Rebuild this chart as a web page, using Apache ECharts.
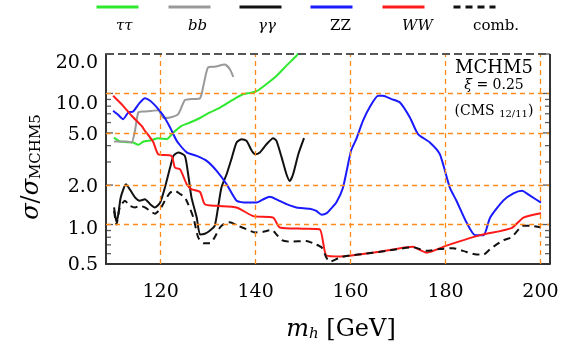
<!DOCTYPE html>
<html>
<head>
<meta charset="utf-8">
<script src="https://cdn.jsdelivr.net/npm/echarts@6/dist/echarts.min.js"></script>
<style>
html, body { margin: 0; padding: 0; background: #fff; }
#chart { width: 576px; height: 355px; }
</style>
</head>
<body>
<div id="chart"></div>
<script>
// 数据：[m_h, sigma/sigma_MCHM5]
const tautau = [[110.2,4.6],[111.4,4.3],[112.8,4.25],[114.2,4.23],[115.3,4.06],[116.4,4.3],[118,4.4],[119.5,4.56],[121.3,4.48],[122.7,5.04],[124.4,5.66],[126.2,6.0],[128.3,6.5],[130.4,7.16],[132.5,7.8],[134.2,8.5],[136,9.3],[137.5,9.9],[138.8,10.1],[140.2,10.4],[142.3,11.8],[144.4,13.6],[146.5,16.3],[148.6,19.4],[150,22.5]];
const bb = [[110.2,4.3],[112.8,4.3],[113.9,4.23],[114.6,5.2],[115.3,7.16],[116.4,7.29],[118,7.35],[119.5,7.46],[120.6,6.5],[122,6.56],[123.7,6.95],[125.1,8.9],[126.5,9.06],[128.3,9.2],[129,11.4],[130,15.8],[131.4,16],[133.5,16.6],[134.6,15.3],[135.3,13.4]];
const gamgam = [[110.2,1.35],[110.7,1.04],[111.1,1.2],[111.6,1.61],[112.7,2.03],[113.5,1.86],[114.6,1.61],[115.6,1.52],[116.7,1.56],[117.8,1.43],[118.8,1.35],[119.9,1.47],[120.9,1.91],[122,2.72],[122.7,3.34],[123.7,3.55],[125.1,3.34],[125.8,2.42],[126.5,1.61],[127.6,1.13],[128.3,0.84],[129.3,0.85],[130.4,0.9],[131.4,0.98],[132.1,1.35],[132.8,1.91],[133.9,2.42],[135,3.24],[136,4.23],[137.1,4.48],[138.1,4.35],[139.2,3.65],[139.9,3.44],[140.9,3.55],[142.3,4.1],[143.7,4.56],[144.4,4.35],[145.5,3.24],[146.5,2.42],[147.2,2.15],[147.9,2.42],[149,3.44],[150.2,4.56]];
const zz = [[110,7.38],[111,6.9],[112.1,6.37],[113.2,7.16],[114.2,7.29],[115.5,8.4],[116.7,9.21],[117.8,8.79],[119.2,7.82],[120.6,6.76],[122,5.5],[123.4,4.35],[125.5,3.55],[127.6,3.34],[129.7,3.06],[131.8,2.57],[133.9,2.03],[136,1.52],[138,1.47],[140.2,1.47],[141.5,1.55],[143,1.63],[144.5,1.55],[146.5,1.43],[148.6,1.35],[151.4,1.32],[152.8,1.27],[153.9,1.19],[155,1.22],[155.8,1.31],[157,1.47],[158.4,1.91],[160.1,3.65],[161.2,4.48],[162.6,6.18],[164,7.82],[165.8,9.6],[166.8,9.6],[168.6,9.06],[170.4,8.54],[172.5,6.56],[174.2,4.9],[176.7,4.23],[178.8,3.44],[180.9,1.91],[182.3,1.52],[184.4,1.04],[186.2,0.83],[188,0.83],[189.4,1.13],[192.2,1.53],[194.3,1.73],[196.1,1.81],[197.8,1.66],[200.1,1.47]];
const ww = [[110,9.6],[112.1,8.05],[113.9,6.76],[116,5.66],[116.7,5.19],[117.8,4.61],[118.5,4.23],[119.5,3.44],[122.3,3.34],[123,2.72],[124.1,2.64],[125.5,2.03],[126.5,1.86],[128.3,1.77],[129.3,1.43],[131.8,1.39],[136,1.35],[139.5,1.16],[143.7,1.13],[145.1,0.95],[150,0.93],[153.5,0.92],[154.9,0.58],[157.8,0.57],[159.8,0.577],[166.1,0.62],[173.2,0.676],[174.2,0.65],[176,0.61],[180.2,0.69],[187.3,0.83],[193.9,0.94],[196.4,1.13],[200.1,1.22]];
const comb = [[110.2,1.27],[110.7,1.0],[111.4,1.35],[112.5,1.52],[113.5,1.39],[114.6,1.35],[115.6,1.39],[116.7,1.35],[117.8,1.27],[118.8,1.21],[119.9,1.31],[120.9,1.52],[122,1.75],[123,1.81],[124.1,1.71],[125.1,1.61],[125.8,1.43],[126.9,1.13],[127.9,0.8],[129,0.72],[130.4,0.72],[131.4,0.8],[132.5,0.95],[133.5,1.02],[134.6,1.04],[136,0.99],[138.1,0.92],[139.9,0.87],[141.6,0.88],[143.4,0.91],[144.4,0.84],[145.5,0.76],[147.2,0.74],[150.7,0.75],[152.5,0.71],[153.9,0.67],[154.9,0.56],[155.6,0.52],[157.7,0.56],[159.8,0.58],[163.3,0.6],[167.5,0.63],[173.2,0.67],[176,0.63],[178.8,0.65],[181.6,0.66],[183.7,0.63],[186.5,0.59],[188,0.59],[189.4,0.65],[192.2,0.76],[193.9,0.8],[196.4,0.98],[197.8,0.98],[200.1,0.95]];

// 刻度
const xTicks = [120, 140, 160, 180, 200];
const yTicks = [0.5, 1, 2, 5, 10, 20];
const yGrid = [1, 2, 5, 10];
const yMinor = [0.6, 0.7, 0.8, 0.9, 3, 4, 6, 7, 8, 9];
const X_MIN = 108.5, X_MAX = 202;

const FONT = 'DejaVu Serif';
const ORANGE = '#ff8c1a';
const FRAME = '#333';

const chart = echarts.init(document.getElementById('chart'));

function curve(name, data, color, dashed) {
    return {
        name: name,
        type: 'line',
        data: data,
        symbol: 'none',
        smooth: 0.2,
        z: 3,
        lineStyle: { color: color, width: 2, type: dashed ? [7, 5] : 'solid' },
        itemStyle: { color: color }
    };
}

// 轴内侧的小刻度
function tickMarks(name, xPos, values, len, dir) {
    return {
        name: name,
        type: 'scatter',
        data: values.map(v => [xPos, v]),
        symbol: 'rect',
        symbolSize: [len, 1.3],
        symbolOffset: [dir * len / 2, 0],
        itemStyle: { color: FRAME },
        silent: true,
        z: 2
    };
}

const legendNames = ['ττ', 'bb', 'γγ', 'ZZ', 'WW', 'comb.'];
const legendLeft = [95, 167, 238, 309, 381, 452];
const legendTextX = [116, 188, 258, 330, 402, 473];
const legendItalic = [true, true, true, false, true, false];

// y 轴标签位置微调
const labelNudge = { 20: 9, 10: 11, 5: 2, 2: 2, 1: 5, 0.5: 1 };

const option = {
    animation: false,
    backgroundColor: '#fff',
    grid: { left: 106, right: 26, top: 54, bottom: 91, show: false },
    legend: legendNames.map((n, i) => ({
        data: [n],
        left: legendLeft[i],
        top: 0,
        padding: 0,
        itemWidth: 42,
        itemHeight: 14,
        selectedMode: false,
        formatter: () => '',
        itemStyle: { opacity: 0 },
        lineStyle: { width: 3 }
    })),
    xAxis: {
        type: 'value',
        min: X_MIN,
        max: X_MAX,
        axisLine: { show: true, lineStyle: { color: FRAME, width: 2 } },
        axisTick: { show: false },
        splitLine: { show: false },
        axisLabel: { customValues: xTicks, margin: 19, color: '#000', fontFamily: FONT, fontSize: 19 },
        name: '{i|m}{s|h}{n| [GeV]}',
        nameLocation: 'middle',
        nameGap: 54,
        nameTextStyle: {
            fontFamily: FONT,
            padding: [0, 0, 0, 26],
            rich: {
                i: { fontFamily: FONT, fontStyle: 'italic', fontSize: 24, color: '#000' },
                s: { fontFamily: FONT, fontStyle: 'italic', fontSize: 15, color: '#000', verticalAlign: 'bottom', padding: [8, 0, 0, 0] },
                n: { fontFamily: FONT, fontSize: 24, color: '#000' }
            }
        }
    },
    yAxis: {
        type: 'log',
        min: 0.5,
        max: 20,
        axisLine: { show: true, lineStyle: { color: FRAME, width: 2 } },
        axisTick: { show: false },
        splitLine: { show: false },
        axisLabel: { show: false },
        name: '{i|σ}{n|/}{i|σ}{s|MCHM5}',
        nameLocation: 'middle',
        nameRotate: 90,
        nameGap: 62,
        nameTextStyle: {
            padding: [0, 16, 0, 0],
            rich: {
                i: { fontFamily: FONT, fontStyle: 'italic', fontSize: 24, color: '#000' },
                n: { fontFamily: FONT, fontSize: 24, color: '#000' },
                s: { fontFamily: FONT, fontSize: 15, color: '#000', verticalAlign: 'bottom', padding: [10, 0, 0, 0] }
            }
        }
    },
    graphic: legendNames.map((n, i) => ({
        type: 'text',
        left: legendTextX[i],
        top: 19,
        style: {
            text: n,
            fill: '#000',
            font: (legendItalic[i] ? 'italic ' : '') + '15px "' + FONT + '"',
            textAlign: 'center'
        }
    })).concat([
        { type: 'text', x: 494, y: 59, style: { text: 'MCHM5', fill: '#000', font: '18px "' + FONT + '"', textAlign: 'center' } },
        { type: 'text', x: 494, y: 78, style: { text: '{i|ξ} = 0.25', fill: '#000', font: '14px "' + FONT + '"', textAlign: 'center',
            rich: { i: { fontFamily: FONT, fontStyle: 'italic', fontSize: 14 } } } },
        { type: 'text', x: 494, y: 103, style: { text: '(CMS {s|12/11})', fill: '#000', font: '14px "' + FONT + '"', textAlign: 'center',
            rich: { s: { fontFamily: FONT, fontSize: 10, verticalAlign: 'bottom', padding: [6, 0, 0, 0] } } } }
    ]),
    series: [
        {
            // 橙色虚线网格
            name: 'grid',
            type: 'line',
            data: [],
            z: 1,
            silent: true,
            markLine: {
                silent: true,
                symbol: ['none', 'none'],
                label: { show: false },
                lineStyle: { color: ORANGE, type: [5, 4], width: 1.3 },
                data: xTicks.map(v => ({ xAxis: v })).concat(yGrid.map(v => ({ yAxis: v })))
            }
        },
        {
            // 右边框与上边框
            name: 'frame',
            type: 'line',
            data: [],
            z: 4,
            silent: true,
            markLine: {
                silent: true,
                symbol: ['none', 'none'],
                label: { show: false },
                data: [
                    { xAxis: X_MAX, lineStyle: { color: FRAME, width: 2, type: 'solid' } },
                    { yAxis: 20, lineStyle: { color: '#555', width: 2.2, type: [8, 4] } }
                ]
            }
        },
        {
            // y 轴刻度标签
            name: 'ylabels',
            type: 'line',
            data: [],
            z: 1,
            silent: true,
            markLine: {
                silent: true,
                symbol: ['none', 'none'],
                lineStyle: { color: 'rgba(0,0,0,0)', width: 0 },
                label: {
                    show: true,
                    position: 'start',
                    distance: 8,
                    color: '#000',
                    opacity: 1,
                    fontFamily: FONT,
                    fontSize: 19,
                    formatter: p => Number(p.value).toFixed(1)
                },
                data: yTicks.map(v => ({ yAxis: v, label: { offset: [0, labelNudge[v] || 0] } }))
            }
        },
        tickMarks('minorLeft', X_MIN, yMinor, 5, 1),
        tickMarks('minorRight', X_MAX, yMinor, 5, -1),
        tickMarks('majorLeft', X_MIN, yTicks, 7, 1),
        tickMarks('majorRight', X_MAX, yTicks, 7, -1),
        curve('ττ', tautau, '#2ee82e', false),
        curve('bb', bb, '#999999', false),
        curve('γγ', gamgam, '#111111', false),
        curve('ZZ', zz, '#1a1aff', false),
        curve('WW', ww, '#ff1a1a', false),
        curve('comb.', comb, '#111111', true)
    ]
};

chart.setOption(option);
</script>
</body>
</html>
